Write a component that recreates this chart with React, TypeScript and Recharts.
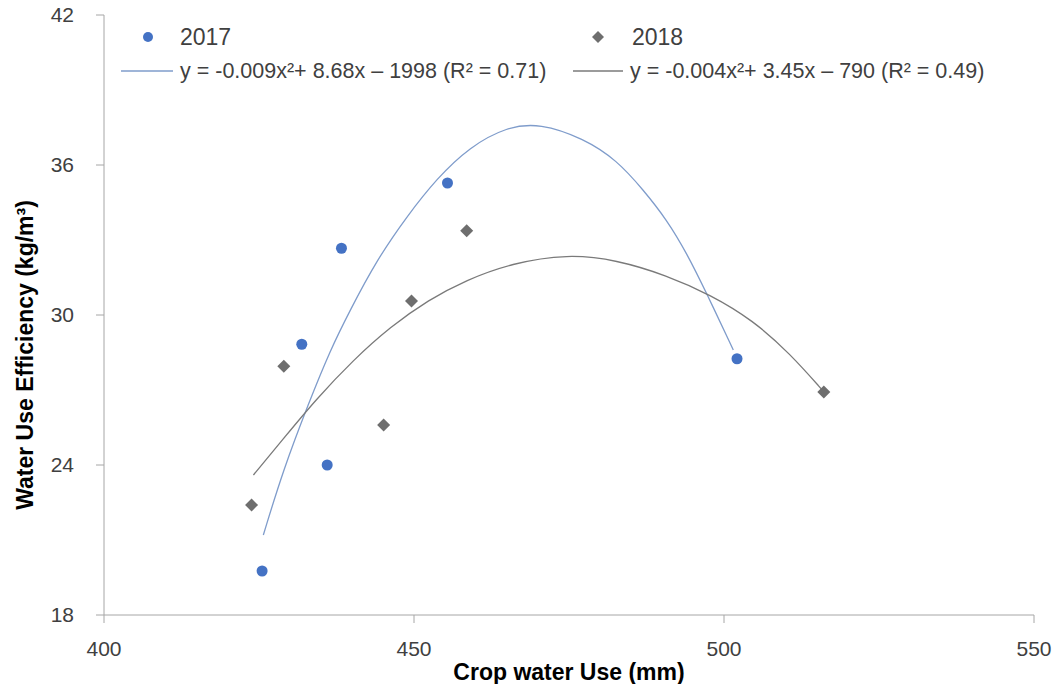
import { ComposedChart, Line, Scatter, XAxis, YAxis, Label } from "recharts";

// measured points: crop water use (mm) vs water use efficiency (kg/m3)
const cwu2017 = [425.5, 431.9, 436.0, 438.3, 455.4, 502.1];
const wue2017 = [19.76, 28.83, 24.0, 32.67, 35.28, 28.25];
const cwu2018 = [423.8, 429.0, 445.1, 449.6, 458.5, 516.1];
const wue2018 = [22.4, 27.95, 25.6, 30.56, 33.37, 26.92];

// trendlines
const trend2017X = [425.7, 428.9, 433.0, 436.5, 439.7, 444.0, 448.8, 453.7, 459.0, 465.0, 470.3, 477.3, 482.7, 487.0, 490.8, 494.0, 497.2, 501.5];
const trend2017Y = [21.2, 23.8, 26.47, 28.6, 30.2, 32.2, 33.93, 35.47, 36.73, 37.53, 37.67, 37.07, 36.2, 35.0, 33.8, 32.47, 30.87, 28.6];
const trend2018X = [424.1, 429.2, 434.1, 440.2, 446.2, 452.3, 458.4, 465.7, 474.8, 482.7, 490.6, 497.9, 504.6, 510.6, 516.1];
const trend2018Y = [23.6, 25.13, 26.6, 28.2, 29.53, 30.6, 31.4, 32.07, 32.44, 32.2, 31.6, 30.8, 29.8, 28.47, 26.93];

const xTicks = [400, 450, 500, 550];
const yTicks = [18, 24, 30, 36, 42];

const BLUE = "#4472c4";
const BLUE_TREND = "#7f9ccb";
const GRAY = "#6e6e6e";
const GRAY_TREND = "#7a7a7a";
const AXIS = "#a6a6a6";
const FONT = "'Liberation Sans', Arial, sans-serif";
const TICK = { fill: "#404040", fontSize: 21, fontFamily: FONT };

const zip = (xs: number[], ys: number[]) => xs.map((x, i) => ({ x, y: ys[i] }));

const Dot = (p: any) => <circle cx={p.cx} cy={p.cy} r={5.5} fill={BLUE} />;
const Diamond = (p: any) => (
  <polygon
    points={`${p.cx},${p.cy - 6.5} ${p.cx + 6.5},${p.cy} ${p.cx},${p.cy + 6.5} ${p.cx - 6.5},${p.cy}`}
    fill={GRAY}
  />
);

const legendText: React.CSSProperties = {
  position: "absolute",
  fontFamily: FONT,
  color: "#404040",
  whiteSpace: "nowrap",
  lineHeight: 1,
};

const YTitle = () => (
  <text
    x={25}
    y={355}
    transform="rotate(-90 25 355)"
    textAnchor="middle"
    dominantBaseline="central"
    style={{ fill: "#000", fontSize: 23, fontWeight: "bold", fontFamily: FONT }}
  >
    Water Use Efficiency (kg/m³)
  </text>
);

export default function App() {
  return (
    <div style={{ position: "absolute", left: 0, top: 0, width: 1056, height: 684, background: "#fff" }}>
      <ComposedChart width={1056} height={684} margin={{ top: 15, right: 22, bottom: 0, left: 0 }}>
        <XAxis
          dataKey="x"
          type="number"
          domain={[400, 550]}
          ticks={xTicks}
          stroke={AXIS}
          tickSize={8}
          tickMargin={18}
          tick={TICK}
          height={69}
        >
          <Label
            value="Crop water Use (mm)"
            position="insideBottom"
            offset={4}
            style={{ fill: "#000", fontSize: 23, fontWeight: "bold", fontFamily: FONT }}
          />
        </XAxis>
        <YAxis
          dataKey="y"
          type="number"
          domain={[18, 42]}
          ticks={yTicks}
          stroke={AXIS}
          tickSize={8}
          tickMargin={22}
          tick={TICK}
          width={104}
        >
          <Label content={YTitle} />
        </YAxis>
        <Line
          data={zip(trend2017X, trend2017Y)}
          dataKey="y"
          type="basis"
          stroke={BLUE_TREND}
          strokeWidth={1.3}
          dot={false}
          activeDot={false}
          isAnimationActive={false}
        />
        <Line
          data={zip(trend2018X, trend2018Y)}
          dataKey="y"
          type="basis"
          stroke={GRAY_TREND}
          strokeWidth={1.3}
          dot={false}
          activeDot={false}
          isAnimationActive={false}
        />
        <Scatter data={zip(cwu2017, wue2017)} dataKey="y" shape={Dot} isAnimationActive={false} />
        <Scatter data={zip(cwu2018, wue2018)} dataKey="y" shape={Diamond} isAnimationActive={false} />
      </ComposedChart>

      {/* legend */}
      <svg style={{ position: "absolute", left: 0, top: 0 }} width={1056} height={100}>
        <circle cx={148} cy={37} r={5} fill={BLUE} />
        <polygon points="598,31 604,37 598,43 592,37" fill={GRAY} />
        <line x1={121} y1={71} x2={173} y2={71} stroke={BLUE_TREND} strokeWidth={1.3} />
        <line x1={573} y1={71} x2={623} y2={71} stroke={GRAY_TREND} strokeWidth={1.3} />
      </svg>
      <span style={{ ...legendText, left: 180, top: 26, fontSize: 23 }}>2017</span>
      <span style={{ ...legendText, left: 632, top: 26, fontSize: 23 }}>2018</span>
      <span style={{ ...legendText, left: 180, top: 61, fontSize: 21.5 }}>
        y = -0.009x²+ 8.68x – 1998 (R² = 0.71)
      </span>
      <span style={{ ...legendText, left: 630, top: 61, fontSize: 21.5 }}>
        y = -0.004x²+ 3.45x – 790 (R² = 0.49)
      </span>
    </div>
  );
}
